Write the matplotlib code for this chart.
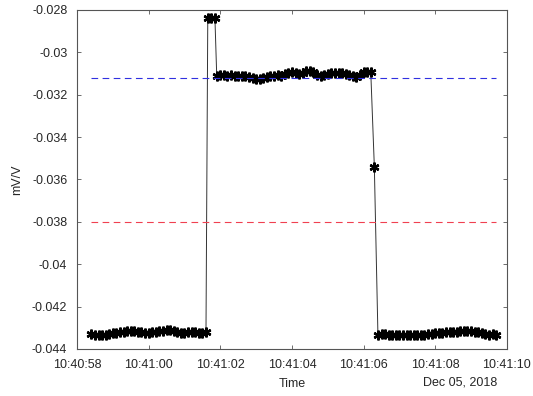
import numpy as np
import matplotlib.pyplot as plt

plt.rcParams['font.family'] = ['Liberation Sans', 'DejaVu Sans']

# bridge output in mV/V, each run sampled every 0.1 s
# times are seconds after 10:40:00
t_step = 0.1

baseline_start = 58.4
baseline = [
    -0.04328, -0.04332, -0.04334, -0.04336, -0.04334, -0.04330, -0.04326, -0.04324,
    -0.04322, -0.04318, -0.04316, -0.04316, -0.04314, -0.04318, -0.04322, -0.04326,
    -0.04324, -0.04320, -0.04318, -0.04316, -0.04314, -0.04312, -0.04312, -0.04316,
    -0.04322, -0.04326, -0.04326, -0.04322, -0.04318, -0.04320, -0.04324, -0.04324,
    -0.04322,
]

overshoot_start = 61.65
overshoot = [-0.02840, -0.02838, -0.02840]

plateau_start = 61.9
plateau = [
    -0.03110, -0.03108, -0.03108, -0.03110, -0.03108, -0.03110, -0.03112, -0.03112,
    -0.03114, -0.03118, -0.03122, -0.03126, -0.03124, -0.03120, -0.03118, -0.03114,
    -0.03112, -0.03108, -0.03110, -0.03104, -0.03098, -0.03094, -0.03100, -0.03104,
    -0.03098, -0.03090, -0.03086, -0.03094, -0.03108, -0.03114, -0.03108, -0.03102,
    -0.03098, -0.03100, -0.03096, -0.03100, -0.03104, -0.03108, -0.03114, -0.03118,
    -0.03106, -0.03094, -0.03092, -0.03092,
]

release_start = 66.3
release = [-0.03540]

unloaded_start = 66.4
unloaded = [
    -0.04332, -0.04330, -0.04330, -0.04332, -0.04334, -0.04334, -0.04336, -0.04336,
    -0.04334, -0.04336, -0.04336, -0.04334, -0.04332, -0.04332, -0.04330, -0.04328,
    -0.04326, -0.04326, -0.04324, -0.04322, -0.04320, -0.04318, -0.04318, -0.04316,
    -0.04316, -0.04316, -0.04314, -0.04318, -0.04322, -0.04326, -0.04330, -0.04332,
    -0.04330, -0.04332,
]

upper_level = -0.0312
lower_level = -0.038

x_ticks = [58, 60, 62, 64, 66, 68, 70]
x_tick_labels = ['10:40:58', '10:41:00', '10:41:02', '10:41:04',
                 '10:41:06', '10:41:08', '10:41:10']
y_ticks = [-0.044, -0.042, -0.04, -0.038, -0.036, -0.034, -0.032, -0.03, -0.028]
y_tick_labels = ['-0.044', '-0.042', '-0.04', '-0.038', '-0.036', '-0.034',
                 '-0.032', '-0.03', '-0.028']
date_label = 'Dec 05, 2018'

runs = [(baseline_start, baseline), (overshoot_start, overshoot),
        (plateau_start, plateau), (release_start, release),
        (unloaded_start, unloaded)]
t = np.concatenate([start + t_step * np.arange(len(vals)) for start, vals in runs])
signal = np.concatenate([vals for _, vals in runs])

fig = plt.figure(figsize=(5.33, 3.96), dpi=100)
ax = fig.add_axes([0.1445, 0.1187, 0.8065, 0.8563])

ax.plot(t, signal, '-', color='#333333', linewidth=0.7)
ax.plot(t, signal, linestyle='none', marker=(6, 2, 0), color='black',
        markersize=7, markeredgewidth=1.7)
ax.plot([t[0], t[-1]], [upper_level, upper_level], '--', color='#3030e0',
        linewidth=0.8, dashes=(6, 4))
ax.plot([t[0], t[-1]], [lower_level, lower_level], '--', color='#f04050',
        linewidth=0.8, dashes=(6, 4))

ax.set_xlim(58, 70)
ax.set_ylim(-0.044, -0.028)
ax.set_xticks(x_ticks)
ax.set_xticklabels(x_tick_labels)
ax.set_yticks(y_ticks)
ax.set_yticklabels(y_tick_labels)

gray = '#262626'
for side in ax.spines.values():
    side.set_color('#555555')
    side.set_linewidth(0.8)
ax.tick_params(direction='in', length=3, width=0.6, color='#555555',
               top=True, right=True, labelsize=9, labelcolor=gray, pad=7)

ax.set_xlabel('Time', fontsize=9, color=gray, labelpad=5)
ax.set_ylabel('mV/V', fontsize=9, color=gray, labelpad=6)
ax.text(0.977, -0.1, date_label, transform=ax.transAxes, ha='right',
        va='center', fontsize=9, color=gray)

fig.savefig('out.png', dpi=100)
